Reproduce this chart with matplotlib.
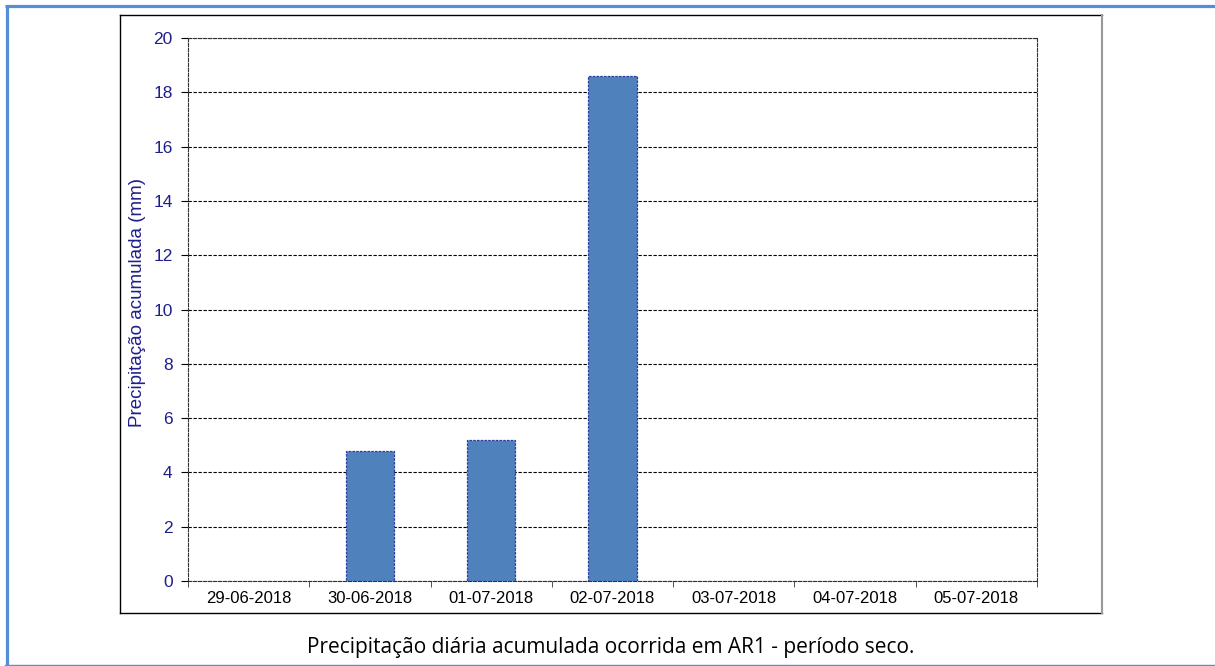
import matplotlib.pyplot as plt
from matplotlib.lines import Line2D
import numpy as np

# data
datas = ['29-06-2018', '30-06-2018', '01-07-2018', '02-07-2018',
         '03-07-2018', '04-07-2018', '05-07-2018']
precip = [0, 4.8, 5.2, 18.6, 0, 0, 0]
y_ticks = [0, 2, 4, 6, 8, 10, 12, 14, 16, 18, 20]

navy = '#1F1F8C'
W, H = 1215, 666

fig = plt.figure(figsize=(12.15, 6.66), dpi=100)
tf = fig.transFigure

# blue page frame (left, top, bottom)
fig.add_artist(Line2D([6.5 / W, 6.5 / W], [0, 1 - 5.5 / H], color='#558ED5', lw=2.3,
                      solid_capstyle='butt', transform=tf))
fig.add_artist(Line2D([5.3 / W, 1], [1 - 5.5 / H, 1 - 5.5 / H], color='#558ED5', lw=2.3,
                      solid_capstyle='butt', transform=tf))
fig.add_artist(Line2D([5 / W, 1], [1 - 664.5 / H, 1 - 664.5 / H], color='#558ED5', lw=1.0, transform=tf))

# chart box
fig.add_artist(Line2D([120 / W, 1102 / W], [1 - 15 / H, 1 - 15 / H], color='black', lw=1.0, transform=tf))
fig.add_artist(Line2D([120 / W, 120 / W], [1 - 15 / H, 1 - 613 / H], color='black', lw=1.0, transform=tf))
fig.add_artist(Line2D([120 / W, 1102 / W], [1 - 613 / H, 1 - 613 / H], color='black', lw=1.0, transform=tf))
fig.add_artist(Line2D([1102 / W, 1102 / W], [1 - 15 / H, 1 - 613 / H], color='#999999', lw=1.5, transform=tf))

ax = fig.add_axes([188 / W, 1 - 581 / H, (1037 - 188) / W, (581 - 38) / H])

x = np.arange(len(datas))
edges = ['#2B3C9C' if v > 0 else 'none' for v in precip]
ax.bar(x, precip, width=0.4, color='#4F81BD', edgecolor=edges,
       linewidth=0.9, linestyle=(0, (2, 1)), zorder=3)

ax.set_xlim(-0.5, len(datas) - 0.5)
ax.set_ylim(0, 20)
ax.set_yticks(y_ticks)
ax.yaxis.grid(True, color='black', linestyle=(0, (3, 1.5)), linewidth=0.8, zorder=1)
ax.set_axisbelow(True)

for s in ax.spines.values():
    s.set_linestyle((0, (3, 1.5)))
    s.set_linewidth(0.8)
    s.set_color('#333333')

ax.set_xticks(x)
ax.set_xticklabels(datas, fontsize=12, family='Liberation Sans')
ax.set_xticks(np.arange(-0.5, len(datas) + 0.5), minor=True)
ax.tick_params(axis='x', which='major', length=0, pad=7)
ax.tick_params(axis='x', which='minor', length=4, direction='out', color='#333333')
ax.tick_params(axis='y', length=5, direction='out', labelcolor=navy, labelsize=12.5, pad=6)
for lb in ax.get_yticklabels():
    lb.set_family('Liberation Sans')

ax.set_ylabel('Precipitação acumulada (mm)', color=navy, fontsize=13.5, family='Liberation Sans')
ax.yaxis.set_label_coords(-0.05, 0.512)

fig.text(611 / W, 1 - 647 / H, 'Precipitação diária acumulada ocorrida em AR1 - período seco.',
         ha='center', va='center', fontsize=15, family='Open Sans')

plt.savefig('out.png', dpi=100)
